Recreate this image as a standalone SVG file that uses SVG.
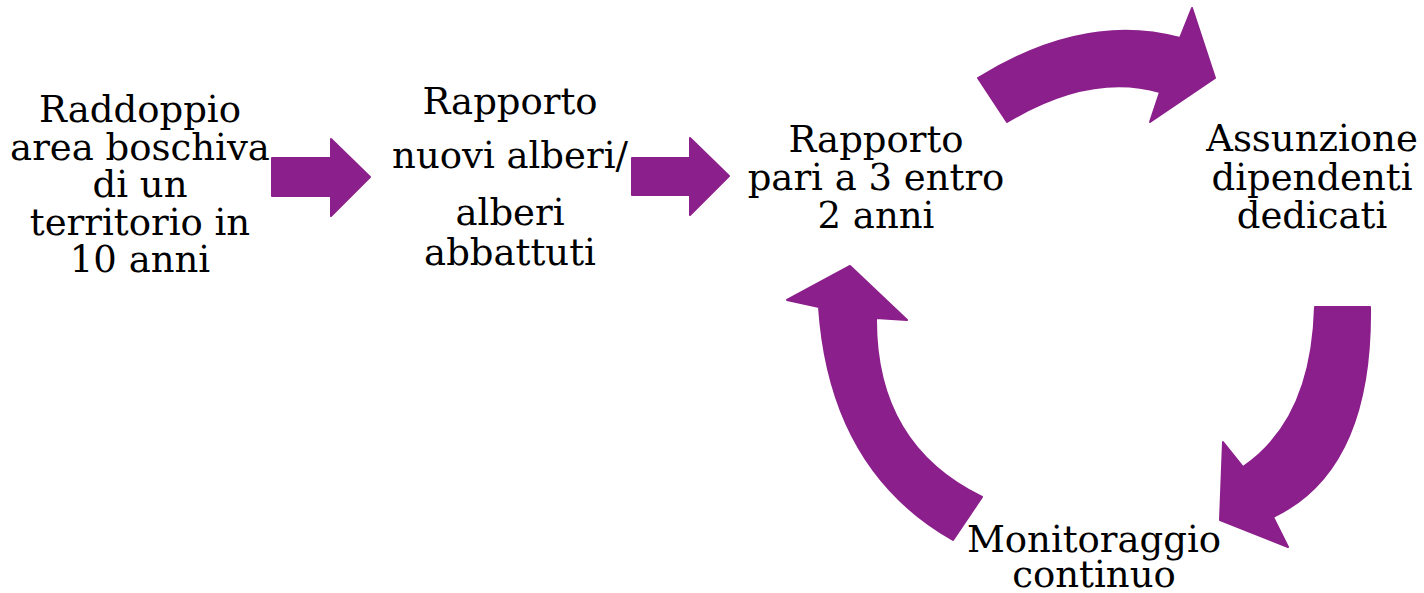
<svg xmlns="http://www.w3.org/2000/svg" width="1424" height="593" viewBox="0 0 1424 593">
<style>
.t{font-family:"DejaVu Serif","Liberation Serif",serif;font-size:37px;fill:#000;text-anchor:middle}
.a{fill:#8B1F8B;stroke:#8B1F8B;stroke-width:2;stroke-linejoin:round}
</style>
<rect width="1424" height="593" fill="#fff"/>
<g id="connectors">
<polygon class="a" points="272,158 331,158 331,139 370,177 331,216 331,196 272,196"/>
<polygon class="a" points="632,158 690,158 690,138 729,176 690,215 690,195 632,195"/>
<path class="a" d="M978,78 Q1085,12 1180,38 L1192,8 L1215,78 L1150,122 L1160,92 Q1090,72 1007,122 Z"/>
<path class="a" d="M1315,307 L1370,307 Q1372,470 1273,517 L1288,547 L1220,520 L1223,442 L1243,467 Q1312,420 1315,307 Z"/>
<path class="a" d="M953,540 Q830,470 819,307 L787,300 L850,266 L907,320 L876,318 Q875,445 982,497 Z"/>
</g>
<g id="node1">
<text class="t"><tspan x="140" y="122">Raddoppio</tspan><tspan x="140" y="160">area boschiva</tspan><tspan x="140" y="197">di un</tspan><tspan x="140" y="235">territorio in</tspan><tspan x="140" y="272">10 anni</tspan></text>
</g>
<g id="node2">
<text class="t"><tspan x="510" y="114">Rapporto</tspan><tspan x="510" y="168">nuovi alberi/</tspan><tspan x="510" y="225">alberi</tspan><tspan x="510" y="265">abbattuti</tspan></text>
</g>
<g id="node3">
<text class="t"><tspan x="876" y="152">Rapporto</tspan><tspan x="876" y="190">pari a 3 entro</tspan><tspan x="876" y="228">2 anni</tspan></text>
</g>
<g id="node4">
<text class="t"><tspan x="1312" y="151">Assunzione</tspan><tspan x="1312" y="190">dipendenti</tspan><tspan x="1312" y="228">dedicati</tspan></text>
</g>
<g id="node5">
<text class="t"><tspan x="1094" y="552">Monitoraggio</tspan><tspan x="1094" y="587">continuo</tspan></text>
</g>
</svg>
